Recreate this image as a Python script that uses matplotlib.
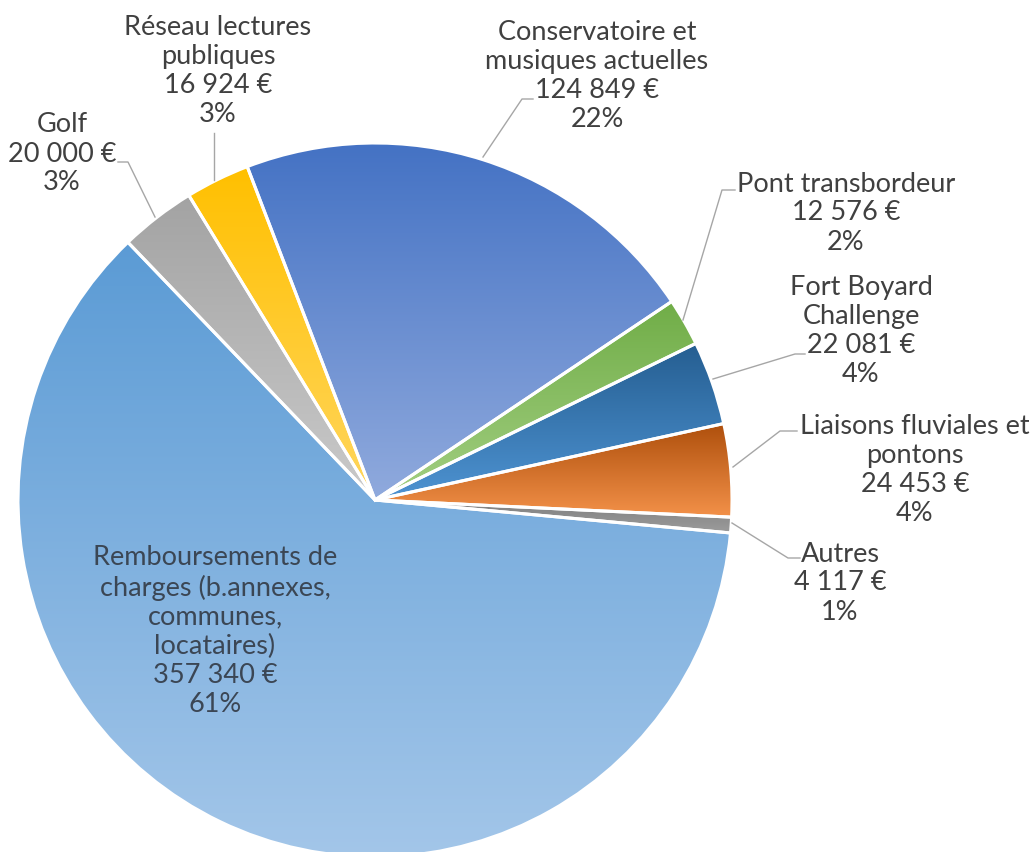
import numpy as np
import matplotlib
matplotlib.use("Agg")
import matplotlib.pyplot as plt
from matplotlib.colors import to_rgb

labels = ["Remboursements de\ncharges (b.annexes,\ncommunes,\nlocataires)",
          "Golf", "Réseau lectures\npubliques", "Conservatoire et\nmusiques actuelles",
          "Pont transbordeur", "Fort Boyard\nChallenge", "Liaisons fluviales et\npontons",
          "Autres"]
values = [357340, 20000, 16924, 124849, 12576, 22081, 24453, 4117]
value_text = ["357 340 €", "20 000 €", "16 924 €", "124 849 €", "12 576 €",
              "22 081 €", "24 453 €", "4 117 €"]
pct_text = ["61%", "3%", "3%", "22%", "2%", "4%", "4%", "1%"]
top_colors = ["#5B9BD5", "#A3A3A3", "#FFC000", "#4472C4", "#70AD47", "#255E91", "#AE4F0C", "#7F7F7F"]
bot_colors = ["#A3C6E9", "#CACACA", "#FFD65E", "#90AADD", "#A3CF82", "#4E93D2", "#F39149", "#9C9C9C"]

fig = plt.figure(figsize=(10.35, 8.52), dpi=100)
ax = fig.add_axes([0, 0, 1, 1])
ax.set_xlim(0, 1035)
ax.set_ylim(0, 852)
ax.axis("off")

cx, cy, R = 375, 852 - 500, 357
wedges, _ = ax.pie(values, startangle=-5.3, counterclock=False, center=(cx, cy), radius=R,
                   wedgeprops=dict(facecolor="none", edgecolor="white", linewidth=2.2, zorder=3),
                   frame=True)

for w, tc, bc in zip(wedges, top_colors, bot_colors):
    ext = w.get_path().get_extents()
    t = np.linspace(0, 1, 256)[:, None]
    grad = (1 - t) * np.array(to_rgb(tc)) + t * np.array(to_rgb(bc))
    grad = np.repeat(grad[:, None, :], 2, axis=1)
    im = ax.imshow(grad, extent=(ext.x0, ext.x1, ext.y0, ext.y1), origin="upper",
                   aspect="auto", interpolation="bilinear", zorder=2)
    im.set_clip_path(w)

ax.set_xlim(0, 1035)
ax.set_ylim(0, 852)
ax.axis("off")

H = 852
def P(x, y):
    return (x, H - y)

text_color = "#404040"
line_color = "#A6A6A6"
font = dict(family=["Lato", "DejaVu Sans"], fontsize=19.5, color=text_color,
            ha="center", va="center", linespacing=1.2, zorder=5)

label_pos = [(215, 631), (62, 154), (218, 71), (597, 76), (846, 213),
             (861, 331), (915, 470), (840, 583)]
leaders = [None,
           [(118, 162), (128, 162), (155, 217)],
           [(214, 133), (214, 180)],
           [(533, 99), (522, 99), (483, 157)],
           [(735, 190), (722, 190), (683, 320)],
           [(805, 354), (795, 354), (713, 379)],
           [(797, 431), (780, 431), (733, 467)],
           [(732, 523), (788, 558), (800, 558)]]

for lab, vt, pt, pos, ld in zip(labels, value_text, pct_text, label_pos, leaders):
    col = "#3B4654" if pt == "61%" else text_color
    f = dict(font, color=col)
    ax.text(*P(*pos), f"{lab}\n{vt}\n{pt}", **f)
    if ld:
        xs = [p[0] for p in ld]
        ys = [H - p[1] for p in ld]
        ax.plot(xs, ys, color=line_color, lw=1.0, zorder=4)

fig.savefig("out.png", dpi=100, facecolor="white")
